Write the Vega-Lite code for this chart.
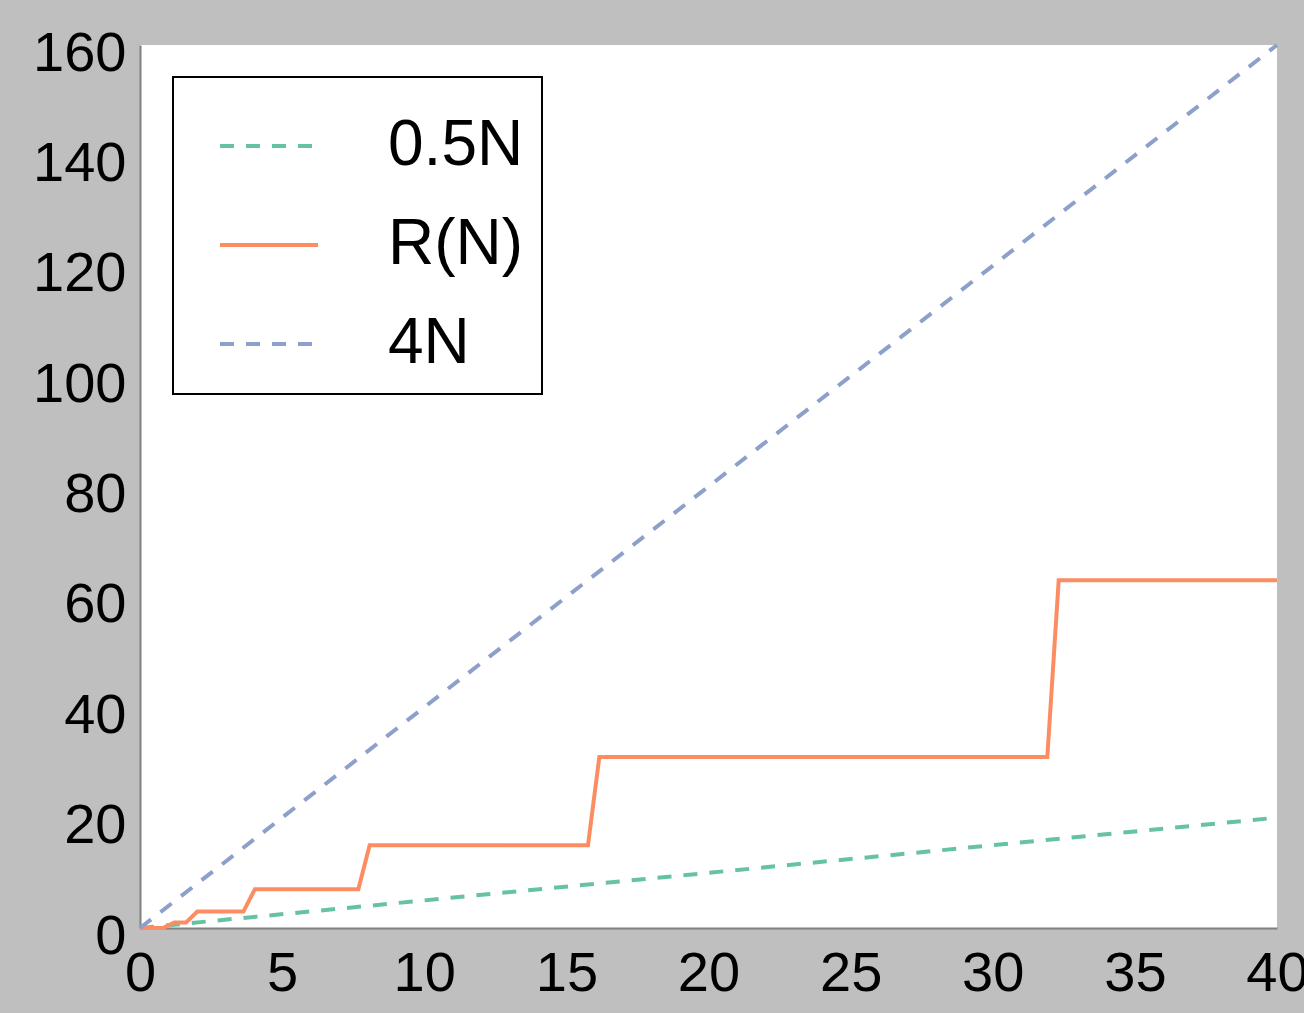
{
  "$schema": "https://vega.github.io/schema/vega-lite/v6.json",
  "autosize": "none",
  "width": 1137,
  "height": 883,
  "padding": {"left": 140, "top": 45, "right": 27, "bottom": 85},
  "background": "#bfbfbf",
  "config": {
    "view": {"fill": "white", "stroke": null},
    "font": "Liberation Sans",
    "legend": {"strokeWidth": 2}
  },
  "data": {
    "values": [
      {"N": 0, "value": 0, "series": "0.5N"},
      {"N": 40, "value": 20, "series": "0.5N"},
      {"N": 0, "value": 0, "series": "R(N)"},
      {"N": 0.81, "value": 0, "series": "R(N)"},
      {"N": 1.21, "value": 1, "series": "R(N)"},
      {"N": 1.62, "value": 1, "series": "R(N)"},
      {"N": 2.02, "value": 3, "series": "R(N)"},
      {"N": 3.64, "value": 3, "series": "R(N)"},
      {"N": 4.04, "value": 7, "series": "R(N)"},
      {"N": 7.68, "value": 7, "series": "R(N)"},
      {"N": 8.08, "value": 15, "series": "R(N)"},
      {"N": 15.76, "value": 15, "series": "R(N)"},
      {"N": 16.16, "value": 31, "series": "R(N)"},
      {"N": 31.92, "value": 31, "series": "R(N)"},
      {"N": 32.32, "value": 63, "series": "R(N)"},
      {"N": 40, "value": 63, "series": "R(N)"},
      {"N": 0, "value": 0, "series": "4N"},
      {"N": 40, "value": 160, "series": "4N"}
    ]
  },
  "mark": {"type": "line", "strokeWidth": 4, "strokeCap": "butt"},
  "encoding": {
    "x": {
      "field": "N", "type": "quantitative",
      "scale": {"domain": [0, 40], "nice": false},
      "axis": {
        "title": null, "values": [0, 5, 10, 15, 20, 25, 30, 35, 40],
        "grid": false, "ticks": false, "domainColor": "#808080", "domainWidth": 2,
        "labelFontSize": 56, "labelColor": "black", "labelPadding": 18,
        "labelFlush": false, "labelOverlap": false
      }
    },
    "y": {
      "field": "value", "type": "quantitative",
      "scale": {"domain": [0, 160], "nice": false},
      "axis": {
        "title": null, "values": [0, 20, 40, 60, 80, 100, 120, 140, 160],
        "grid": false, "ticks": false, "domainColor": "#808080", "domainWidth": 2,
        "labelFontSize": 56, "labelColor": "black", "labelPadding": 14,
        "labelOffset": 8, "labelFlush": false, "labelOverlap": false
      }
    },
    "color": {
      "field": "series", "type": "nominal",
      "scale": {"domain": ["0.5N", "R(N)", "4N"], "range": ["#66c2a5", "#fc8d62", "#8da0cb"]},
      "legend": {
        "title": null, "orient": "none", "legendX": 33, "legendY": 32,
        "strokeColor": "black", "fillColor": "white",
        "padding": 18, "symbolType": "stroke", "symbolSize": 9604,
        "symbolStrokeWidth": 4, "symbolOffset": 27, "labelOffset": 68,
        "labelFontSize": 64, "labelColor": "black", "rowPadding": 16,
        "labelLimit": 400, "cornerRadius": 0
      }
    },
    "strokeDash": {
      "field": "series", "type": "nominal",
      "scale": {"domain": ["0.5N", "R(N)", "4N"], "range": [[14, 12], [1, 0], [14, 12]]},
      "legend": null
    }
  }
}
